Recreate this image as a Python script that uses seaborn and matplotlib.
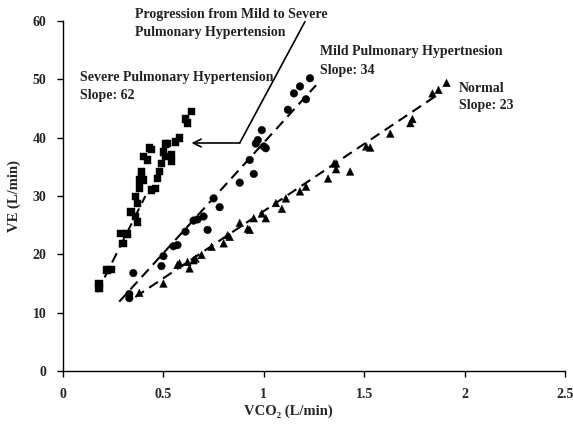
import matplotlib
matplotlib.use("Agg")
import matplotlib.pyplot as plt
import seaborn as sns
import pandas as pd

# ---- data ----
severe_x = [0.18, 0.18, 0.22, 0.24, 0.29, 0.32, 0.30, 0.34, 0.36, 0.37, 0.37, 0.36, 0.38, 0.38,
            0.40, 0.39, 0.39, 0.40, 0.42, 0.44, 0.44, 0.46, 0.47, 0.48, 0.49, 0.50, 0.51, 0.51,
            0.54, 0.54, 0.56, 0.58, 0.61, 0.62, 0.64, 0.52, 0.43]
severe_y = [15.0, 14.2, 17.3, 17.4, 23.6, 23.5, 21.9, 27.3, 26.5, 25.6, 28.7, 29.9, 31.4, 32.8,
            32.8, 33.4, 34.2, 36.8, 36.2, 38.0, 31.0, 31.3, 33.0, 34.2, 35.6, 37.6, 36.8, 38.9,
            37.0, 35.9, 39.3, 40.0, 43.2, 42.5, 44.5, 39.0, 38.2]

mild_x = [0.33, 0.33, 0.35, 0.49, 0.50, 0.57, 0.61, 0.65, 0.67, 0.70, 0.72, 0.75, 0.78, 0.88,
          0.95, 0.93, 0.97, 1.00, 0.96, 1.01, 0.99, 1.12, 1.15, 1.18, 1.21, 1.23, 0.55]
mild_y = [12.5, 13.2, 16.8, 18.0, 19.7, 21.6, 23.9, 25.8, 26.0, 26.5, 24.2, 29.6, 28.1, 32.3,
          33.8, 36.2, 39.6, 38.5, 39.0, 38.2, 41.3, 44.8, 47.6, 48.8, 46.6, 50.2, 21.4]

normal_x = [0.38, 0.50, 0.57, 0.58, 0.62, 0.63, 0.65, 0.66, 0.69, 0.74, 0.80, 0.82, 0.83, 0.88,
            0.92, 0.93, 0.95, 0.99, 1.01, 1.06, 1.09, 1.11, 1.18, 1.21, 1.32, 1.35, 1.36, 1.36,
            1.43, 1.51, 1.53, 1.63, 1.73, 1.74, 1.84, 1.87, 1.91]
normal_y = [13.4, 15.0, 18.2, 18.5, 18.7, 17.6, 19.0, 19.3, 19.9, 21.3, 21.9, 23.3, 23.0, 25.4,
            24.4, 24.2, 26.2, 27.0, 26.2, 28.8, 27.8, 29.6, 30.8, 31.6, 33.0, 35.6, 35.6, 34.6,
            34.2, 38.5, 38.3, 40.7, 42.5, 43.2, 47.6, 48.2, 49.4]

# fitted regression line endpoints
severe_fit_x = [0.17, 0.41]
severe_fit_y = [13.5, 30.0]
mild_fit_x = [0.28, 1.26]
mild_fit_y = [11.9, 49.0]
normal_fit_x = [0.36, 1.85]
normal_fit_y = [12.7, 47.0]

# annotation pointer path (data coords)
pointer_x = [1.205, 0.88, 0.64]
pointer_y = [59.9, 39.1, 39.1]

x_ticks = [0, 0.5, 1, 1.5, 2, 2.5]
x_tick_labels = ["0", "0.5", "1", "1.5", "2", "2.5"]
y_ticks = [0, 10, 20, 30, 40, 50, 60]

# ---- build table ----
df = pd.concat([
    pd.DataFrame({"VCO2": severe_x, "VE": severe_y, "group": "Severe"}),
    pd.DataFrame({"VCO2": mild_x, "VE": mild_y, "group": "Mild"}),
    pd.DataFrame({"VCO2": normal_x, "VE": normal_y, "group": "Normal"}),
], ignore_index=True)

sns.set_theme(style="ticks")
plt.rcParams["font.family"] = ["Liberation Serif", "DejaVu Serif"]
plt.rcParams["font.weight"] = "bold"

fig = plt.figure(figsize=(5.73, 4.30), dpi=100)
ax = fig.add_axes([0.110, 0.137, 0.876, 0.814])

sns.scatterplot(data=df, x="VCO2", y="VE", style="group",
                markers={"Severe": "s", "Mild": "o", "Normal": "^"},
                color="black", s=30, edgecolor="black", linewidth=0.3,
                legend=False, ax=ax, zorder=3)

for fx, fy in [(severe_fit_x, severe_fit_y), (mild_fit_x, mild_fit_y), (normal_fit_x, normal_fit_y)]:
    ax.plot(fx, fy, color="black", lw=1.5, dashes=(5, 3), zorder=2)

# pointer line with open arrowhead
ax.plot(pointer_x[:2], pointer_y[:2], color="black", lw=1.2, clip_on=False)
ax.annotate("", xy=(pointer_x[2], pointer_y[2]), xytext=(pointer_x[1], pointer_y[1]),
            arrowprops=dict(arrowstyle="->", color="black", lw=1.2,
                            mutation_scale=14, shrinkA=0, shrinkB=0))

tkw = dict(fontsize=10, fontweight="bold", color="#222222")
ax.text(0.36, 61.1, "Progression from Mild to Severe", va="center", ha="left", clip_on=False, **tkw)
ax.text(0.36, 58.1, "Pulmonary Hypertension", va="center", ha="left", clip_on=False, **tkw)
ax.text(1.28, 54.7, "Mild Pulmonary Hypertnesion", va="center", ha="left", **tkw)
ax.text(1.28, 51.6, "Slope: 34", va="center", ha="left", **tkw)
ax.text(0.085, 50.4, "Severe Pulmonary Hypertension", va="center", ha="left", **tkw)
ax.text(0.085, 47.3, "Slope: 62", va="center", ha="left", **tkw)
ax.text(1.97, 48.5, "Normal", va="center", ha="left", **tkw)
ax.text(1.97, 45.6, "Slope: 23", va="center", ha="left", **tkw)

ax.set_xlim(0, 2.5)
ax.set_ylim(0, 60)
ax.set_xticks(x_ticks)
ax.set_xticklabels(x_tick_labels)
ax.set_yticks(y_ticks)
for lab in ax.get_xticklabels() + ax.get_yticklabels():
    lab.set_fontweight("bold")
    lab.set_fontsize(10)
ax.tick_params(axis="both", direction="out", length=4, width=1, color="black", pad=8)
ax.set_xlabel("VCO\u2082 (L/min)", fontsize=10.5, fontweight="bold")
ax.xaxis.set_label_coords(0.448, -0.095)
ax.set_ylabel("VE (L/min)", fontsize=10.5, fontweight="bold", labelpad=8)
sns.despine(ax=ax)
for sp in ["left", "bottom"]:
    ax.spines[sp].set_linewidth(1.0)
    ax.spines[sp].set_color("black")

fig.savefig("out.png", dpi=100)
